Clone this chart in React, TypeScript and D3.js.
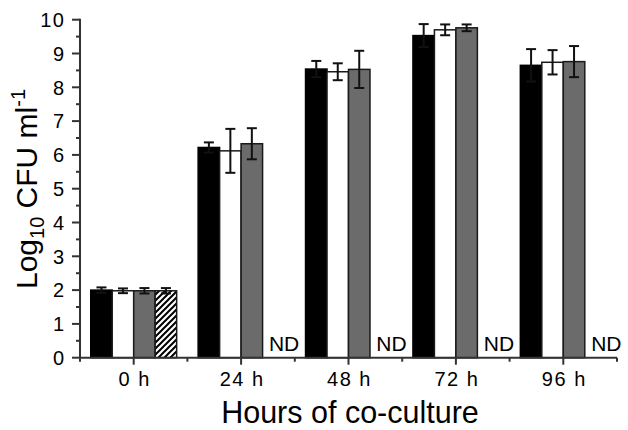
import React from "react";
import * as d3 from "d3";

const categories = ["0 h", "24 h", "48 h", "72 h", "96 h"];
const seriesNames = ["black", "white", "gray", "hatched"];
const blackValues = [2.0, 6.22, 8.54, 9.53, 8.65];
const blackErrors = [0.08, 0.15, 0.24, 0.34, 0.48];
const whiteValues = [1.98, 6.12, 8.46, 9.7, 8.74];
const whiteErrors = [0.07, 0.65, 0.25, 0.16, 0.36];
const grayValues = [1.98, 6.33, 8.53, 9.76, 8.76];
const grayErrors = [0.08, 0.46, 0.55, 0.1, 0.46];
const hatchedValues: (number | null)[] = [1.98, null, null, null, null];
const hatchedErrors: (number | null)[] = [0.08, null, null, null, null];
const yTicks = [0, 1, 2, 3, 4, 5, 6, 7, 8, 9, 10];
const yMinorTicks = [0.5, 1.5, 2.5, 3.5, 4.5, 5.5, 6.5, 7.5, 8.5, 9.5];
const ndLabel = "ND";

const FONT = "'Liberation Sans', Arial, Helvetica, sans-serif";

export default function App() {
  const W = 628;
  const H = 430;
  const left = 80;
  const right = 617;
  const top = 19.7;
  const bottom = 357.7;

  const x = d3.scaleBand<string>().domain(categories).range([left, right]).paddingInner(0).paddingOuter(0);
  const xs = d3.scaleBand<string>().domain(seriesNames).range([0, x.bandwidth()]).paddingInner(0).paddingOuter(0.5);
  const y = d3.scaleLinear().domain([0, 10]).range([bottom, top]);

  const series = [
    { name: "black", values: blackValues, errors: blackErrors, fill: "#000000", stroke: "#000000" },
    { name: "white", values: whiteValues, errors: whiteErrors, fill: "#ffffff", stroke: "#1a1a1a" },
    { name: "gray", values: grayValues, errors: grayErrors, fill: "#6b6b6b", stroke: "#1a1a1a" },
    { name: "hatched", values: hatchedValues, errors: hatchedErrors, fill: "url(#hatch)", stroke: "#1a1a1a" },
  ];

  const bw = xs.bandwidth();
  const boundaries = categories.map((c) => x(c) as number).concat([right]);

  return (
    <svg width={W} height={H} style={{ position: "absolute", left: 0, top: 0, background: "#fff" }} fontFamily={FONT}>
      <defs>
        <pattern id="hatch" patternUnits="userSpaceOnUse" width="6" height="6">
          <rect width="6" height="6" fill="#fff" />
          <path d="M-1,7 L7,-1 M-4,4 L4,-4 M2,10 L10,2" stroke="#000" strokeWidth="2" />
        </pattern>
      </defs>

      {/* bars */}
      {series.map((s) =>
        categories.map((c, i) => {
          const v = s.values[i];
          if (v == null) return null;
          const bx = (x(c) as number) + (xs(s.name) as number);
          return (
            <rect
              key={s.name + c}
              x={bx}
              y={y(v)}
              width={bw}
              height={bottom - y(v)}
              fill={s.fill}
              stroke={s.stroke}
              strokeWidth={1.5}
            />
          );
        })
      )}

      {/* error bars */}
      {series.map((s) =>
        categories.map((c, i) => {
          const v = s.values[i];
          const e = s.errors[i];
          if (v == null || e == null) return null;
          const cx = (x(c) as number) + (xs(s.name) as number) + bw / 2;
          const y1 = y(v + e);
          const y2 = y(v - e);
          return (
            <g key={"e" + s.name + c} stroke="#111" strokeWidth={2}>
              <line x1={cx} x2={cx} y1={y1} y2={y2} />
              <line x1={cx - 5} x2={cx + 5} y1={y1} y2={y1} />
              <line x1={cx - 5} x2={cx + 5} y1={y2} y2={y2} />
            </g>
          );
        })
      )}

      {/* ND labels */}
      {categories.map((c, i) =>
        hatchedValues[i] == null ? (
          <text key={"nd" + c} x={(x(c) as number) + x.bandwidth() / 2 + 43} y={351} fontSize={21} textAnchor="middle" fill="#000">
            {ndLabel}
          </text>
        ) : null
      )}

      {/* y axis */}
      <line x1={left} x2={left} y1={top - 1} y2={bottom + 1} stroke="#333" strokeWidth={2} />
      {yTicks.map((t) => (
        <g key={"yt" + t}>
          <line x1={left - 8} x2={left} y1={y(t)} y2={y(t)} stroke="#333" strokeWidth={2} />
          <text x={65.5} y={y(t)} dy="0.36em" fontSize={20} textAnchor="end" letterSpacing={1.5} fill="#000">
            {t}
          </text>
        </g>
      ))}
      {yMinorTicks.map((t) => (
        <line key={"ym" + t} x1={left - 4} x2={left} y1={y(t)} y2={y(t)} stroke="#333" strokeWidth={2} />
      ))}

      {/* x axis */}
      <line x1={left - 1} x2={right} y1={bottom} y2={bottom} stroke="#333" strokeWidth={2} />
      {categories.map((c) => {
        const cx = (x(c) as number) + x.bandwidth() / 2;
        return (
          <g key={"xt" + c}>
            <line x1={cx} x2={cx} y1={bottom} y2={bottom + 7} stroke="#333" strokeWidth={2} />
            <text x={cx + 1} y={385.5} fontSize={20} textAnchor="middle" letterSpacing={1.5} fill="#000">
              {c}
            </text>
          </g>
        );
      })}
      {boundaries.map((b, i) => (
        <line key={"xm" + i} x1={b} x2={b} y1={bottom} y2={bottom + 4} stroke="#333" strokeWidth={2} />
      ))}

      {/* titles */}
      <text x={350} y={423} fontSize={30.5} textAnchor="middle" fill="#000">
        Hours of co-culture
      </text>
      <text transform="translate(37,189) rotate(-90)" fontSize={30} textAnchor="middle" fill="#000">
        Log
        <tspan fontSize={20} dy={7}>10</tspan>
        <tspan dy={-7}> CFU ml</tspan>
        <tspan fontSize={20} dy={-12}>-1</tspan>
      </text>
    </svg>
  );
}
